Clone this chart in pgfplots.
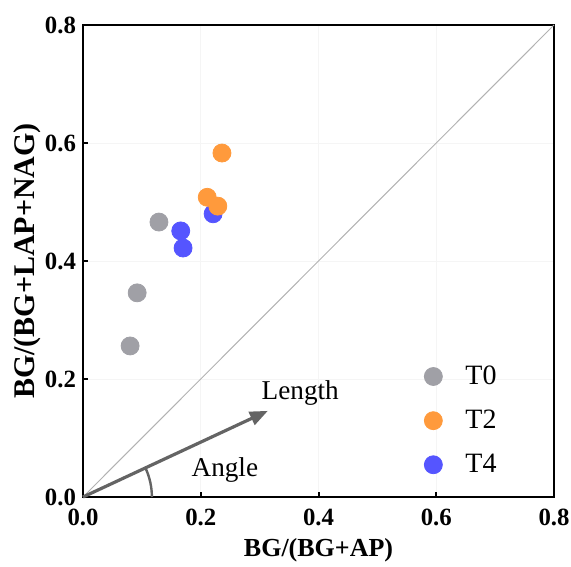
\documentclass[border=0pt]{standalone}
\usepackage{pgfplots}
\pgfplotsset{compat=1.18}
\usepackage{fontspec}
\setmainfont{Liberation Serif}
\usetikzlibrary{arrows.meta}
\definecolor{cT0}{RGB}{160,160,166}
\definecolor{cT2}{RGB}{255,154,60}
\definecolor{cT4}{RGB}{85,85,255}
\definecolor{arrowgray}{RGB}{100,100,100}

\begin{document}
\begin{tikzpicture}
\useasboundingbox (-41.5pt,-34.5pt) rectangle (244pt,248.5pt);
\begin{axis}[
  at={(0,0)}, anchor=south west,
  scale only axis, width=235.5pt, height=236pt,
  xmin=0, xmax=0.8, ymin=0, ymax=0.8,
  xtick={0,0.2,0.4,0.6,0.8}, ytick={0,0.2,0.4,0.6,0.8},
  /pgf/number format/fixed, /pgf/number format/fixed zerofill,
  /pgf/number format/precision=1, /pgf/number format/assume math mode=true,
  tick label style={font=\fontsize{12.4}{14}\selectfont\bfseries},
  xticklabel style={yshift=-2.5pt},
  xtick pos=bottom, ytick pos=left, tick align=inside, major tick length=2.5pt,
  axis line style={line width=1.2pt},
  every tick/.style={black, line width=1pt},
  grid=major, grid style={gray!8, line width=0.4pt},
  xlabel={BG/(BG+AP)}, ylabel={BG/(BG+LAP+NAG)},
  xlabel style={font=\fontsize{13}{15}\selectfont\bfseries, at={(axis description cs:0.5,-0.1123)}, anchor=center},
  ylabel style={font=\fontsize{15}{17}\selectfont\bfseries, at={(axis description cs:-0.119,0.5)}, anchor=center},
  legend style={draw=none, fill=none, at={(0.694,0.296)}, anchor=north west,
    font=\fontsize{14}{16}\selectfont, row sep=7.3pt},
  legend image code/.code={
    \draw[#1] plot coordinates {(0.3cm,0cm)};
    \path[draw=none, fill=none] (0cm,0cm) -- (0.6cm+5.5pt,0cm);
  },
  legend cell align=left,
  clip=false,
]
\addlegendimage{only marks, mark=*, mark size=4.5pt, color=cT0}
\addlegendentry{T0}
\addlegendimage{only marks, mark=*, mark size=4.5pt, color=cT2}
\addlegendentry{T2}
\addlegendimage{only marks, mark=*, mark size=4.5pt, color=cT4}
\addlegendentry{T4}

\addplot[color=gray!60, line width=0.5pt, forget plot] coordinates {(0,0) (0.8,0.8)};

\addplot[only marks, mark=*, mark size=4.5pt, color=cT0, forget plot] coordinates {
  (0.080,0.256) (0.092,0.346) (0.129,0.466)};
\addplot[only marks, mark=*, mark size=4.5pt, color=cT4, forget plot] coordinates {
  (0.166,0.451) (0.170,0.422) (0.221,0.480)};
\addplot[only marks, mark=*, mark size=4.5pt, color=cT2, forget plot] coordinates {
  (0.236,0.583) (0.211,0.508) (0.229,0.493)};

\addplot[arrowgray, line width=1.6pt, -{Triangle[length=9pt,width=7pt]}, forget plot]
  coordinates {(0,0) (0.314,0.146)};
\draw[arrowgray, line width=1.2pt] (axis cs:0.117,0) arc[start angle=0, end angle=25, radius=34.4pt];
\node[font=\fontsize{13.6}{16}\selectfont] at (axis cs:0.369,0.177) {Length};
\node[font=\fontsize{13.6}{16}\selectfont] at (axis cs:0.241,0.046) {Angle};
\end{axis}
\end{tikzpicture}
\end{document}
